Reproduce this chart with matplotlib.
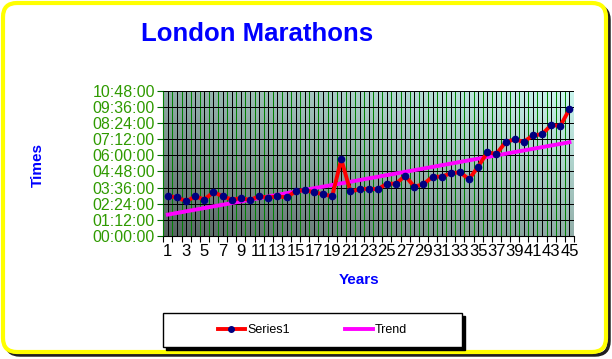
import numpy as np
import matplotlib
matplotlib.use("Agg")
from matplotlib import pyplot as plt
from matplotlib.patches import FancyBboxPatch, Rectangle
from matplotlib.lines import Line2D
from matplotlib.ticker import FuncFormatter
from matplotlib.transforms import IdentityTransform

plt.rcParams['font.family'] = ['Liberation Sans', 'DejaVu Sans']

# data (times in hours)
years = list(range(1, 46))
times = [2.95, 2.88, 2.58, 2.94, 2.71, 3.26, 2.95, 2.71, 2.81, 2.68,
         2.95, 2.86, 2.94, 2.88, 3.31, 3.42, 3.25, 3.11, 2.95, 5.70,
         3.31, 3.47, 3.52, 3.47, 3.89, 3.89, 4.48, 3.67, 3.84, 4.41,
         4.41, 4.66, 4.74, 4.22, 5.15, 6.22, 6.10, 6.97, 7.19, 6.99,
         7.49, 7.56, 8.25, 8.18, 9.42]
trend_years = [1, 45]
trend_times = [1.59, 6.97]
y_ticks = [0, 1.2, 2.4, 3.6, 4.8, 6.0, 7.2, 8.4, 9.6, 10.8]

blue = '#0000ff'
green_txt = '#2f9a00'

fig = plt.figure(figsize=(6.12, 3.59), dpi=100)
fig.patch.set_facecolor('white')

# yellow rounded frame with dark shadow (pixel coords)
shadow = FancyBboxPatch((6, 4), 603, 349, boxstyle="round,pad=0,rounding_size=14",
                        transform=IdentityTransform(), facecolor='none',
                        edgecolor='#202020', linewidth=2.5, zorder=0)
frame = FancyBboxPatch((3, 7), 603, 349, boxstyle="round,pad=0,rounding_size=14",
                       transform=IdentityTransform(), facecolor='white',
                       edgecolor='#ffff00', linewidth=3, zorder=1)
fig.patches.extend([shadow, frame])

ax = fig.add_axes([163.3 / 612, 1 - 236 / 359, (574 - 163.3) / 612, (236 - 90.7) / 359])
ax.set_zorder(2)

# gradient background
gx, gy = np.meshgrid(np.linspace(0, 1, 200), np.linspace(0, 1, 200))
t = (gx * 0.5 + gy * 0.5)[..., None]
dark = np.array([0.34, 0.39, 0.38])
light = np.array([0.80, 0.97, 0.94])
grad = dark + t * (light - dark)
ax.imshow(grad, origin='lower', extent=[0.5, 45.5, 0, 10.8], aspect='auto', zorder=0)

ax.plot(years, times, color='#ff0000', linewidth=2.8, marker='o', markersize=4.5,
        markerfacecolor='#000080', markeredgecolor='#000080', zorder=4, label='Series1')
ax.plot(trend_years, trend_times, color='#ff00ff', linewidth=2.8, zorder=3, label='Trend')

ax.set_xlim(0.5, 45.5)
ax.set_ylim(0, 10.8)

ax.set_xticks(years)
ax.set_xticklabels([str(y) if y % 2 else '' for y in years], fontsize=12)
ax.set_xticks(np.arange(0.5, 46, 1), minor=True)
ax.tick_params(axis='x', which='major', length=0, pad=6, colors='black')
ax.tick_params(axis='x', which='minor', length=4, width=0.8, color='black')
ax.grid(axis='x', which='major', color='black', linewidth=0.72, antialiased=False)
ax.grid(axis='x', which='minor', color='#008000', linewidth=0.72, antialiased=False)

ax.set_yticks(y_ticks)
ax.yaxis.set_major_formatter(FuncFormatter(
    lambda v, p: "%02d:%02d:00" % (int(round(v * 60)) // 60, int(round(v * 60)) % 60)))
ax.tick_params(axis='y', length=4, width=0.8, color='#006600', labelcolor=green_txt,
               labelsize=11.5, pad=2)
ax.grid(axis='y', which='major', color='black', linewidth=0.72, antialiased=False)
ax.set_axisbelow(False)
for gl in ax.get_xgridlines() + ax.get_ygridlines():
    gl.set_zorder(1.5)

ax.spines['top'].set_visible(False)
ax.spines['right'].set_visible(False)
ax.spines['left'].set_color('#008000')
ax.spines['bottom'].set_color('black')

fig.text(257 / 612, 1 - 34 / 359, 'London Marathons', color=blue, fontsize=18.5,
         fontweight='bold', ha='center', va='center')
fig.text(38 / 612, 1 - 165 / 359, 'Times', color=blue, fontsize=11, fontweight='bold',
         rotation=90, ha='center', va='center')
fig.text(359.5 / 612, 1 - 280 / 359, 'Years', color=blue, fontsize=11, fontweight='bold',
         ha='center', va='center')

# legend box with shadow
lx0, ly0, lw, lh = 163 / 612, 1 - 347 / 359, (462 - 163) / 612, 34 / 359
fig.patches.append(Rectangle((lx0 + 3 / 612, ly0 - 3 / 359), lw, lh, transform=fig.transFigure,
                             facecolor='black', edgecolor='black', zorder=3))
fig.patches.append(Rectangle((lx0, ly0), lw, lh, transform=fig.transFigure,
                             facecolor='white', edgecolor='black', linewidth=1, zorder=4))
handles = [Line2D([], [], color='#ff0000', linewidth=2.8, marker='o', markersize=4,
                  markerfacecolor='#000080', markeredgecolor='#000080'),
           Line2D([], [], color='#ff00ff', linewidth=2.8)]
leg = fig.legend(handles, ['Series1', 'Trend'], loc='center', ncol=2, frameon=False,
                 bbox_to_anchor=(lx0 + lw / 2, ly0 + lh / 2), fontsize=9,
                 handlelength=2.2, handletextpad=0.2, columnspacing=4.4, numpoints=1)
leg.set_zorder(5)

fig.savefig('out.png', dpi=100)
